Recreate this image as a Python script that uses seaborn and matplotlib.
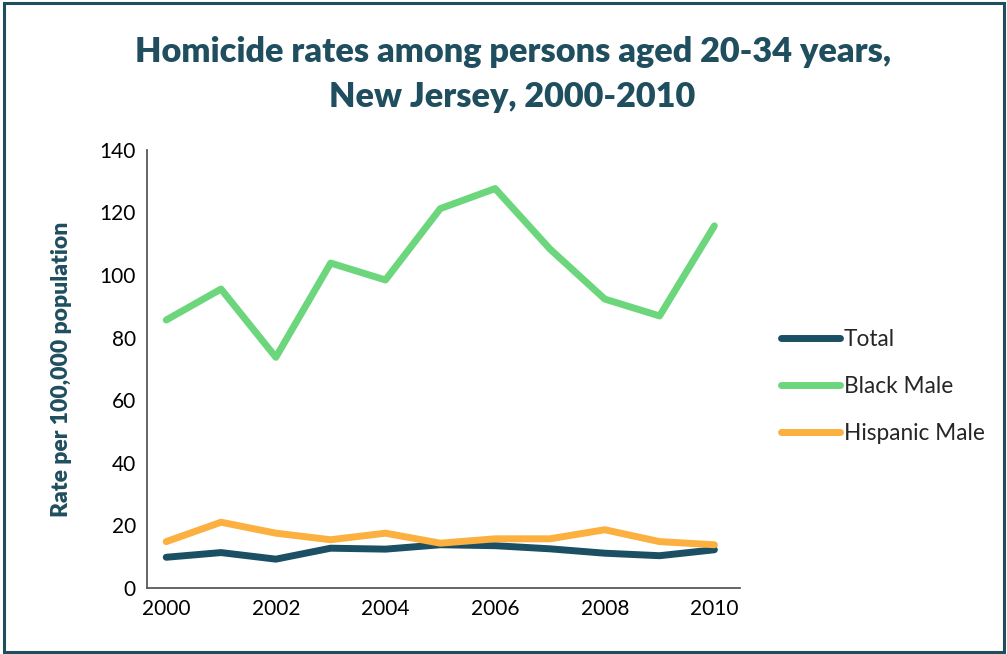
import pandas as pd
import matplotlib.pyplot as plt
import seaborn as sns
from matplotlib.patches import Rectangle

# data
years = [2000, 2001, 2002, 2003, 2004, 2005, 2006, 2007, 2008, 2009, 2010]
total = [9.8, 11.3, 9.2, 12.7, 12.4, 13.8, 13.5, 12.5, 11.1, 10.3, 12.2]
black_male = [85.6, 95.5, 73.7, 103.8, 98.4, 121.2, 127.6, 108.3, 92.3, 86.9, 115.7]
hispanic_male = [14.8, 21.0, 17.5, 15.4, 17.5, 14.3, 15.7, 15.7, 18.6, 14.8, 13.8]
series = ['Total', 'Black Male', 'Hispanic Male']
colors = ['#1B4F63', '#6CD67C', '#FBB03F']

df = pd.DataFrame({'Year': years, 'Total': total,
                   'Black Male': black_male, 'Hispanic Male': hispanic_male})
long = df.melt(id_vars='Year', var_name='Group', value_name='Rate')

sns.set_style('white')
plt.rcParams['font.family'] = ['Lato', 'DejaVu Sans']

fig = plt.figure(figsize=(10.07, 6.54), dpi=100)
ax = fig.add_axes([0.146, 0.101, 0.589, 0.670])

sns.lineplot(data=long, x='Year', y='Rate', hue='Group', hue_order=series,
             palette=colors, linewidth=5, ax=ax, legend=True,
             solid_capstyle='round')

ax.set_xlim(1999.65, 2010.47)
ax.set_ylim(0, 140)
ax.set_xticks(range(2000, 2011, 2))
ax.set_yticks(range(0, 141, 20))
ax.tick_params(axis='both', labelsize=15, length=0, pad=8, colors='black')
ax.set_xlabel('')
ax.set_ylabel('Rate per 100,000 population', fontsize=16.5, fontweight='heavy',
              color='#1F4E5F', labelpad=20)
for s in ['top', 'right']:
    ax.spines[s].set_visible(False)
for s in ['left', 'bottom']:
    ax.spines[s].set_color('#595959')
    ax.spines[s].set_linewidth(1.3)

leg = ax.legend(loc='center left', bbox_to_anchor=(1.035, 0.46), frameon=False,
                fontsize=16.3, handlelength=2.6, handletextpad=0.15,
                labelspacing=1.15, title=None)
for line in leg.get_lines():
    line.set_linewidth(5)
    line.set_solid_capstyle('round')

fig.text(0.509, 0.921, 'Homicide rates among persons aged 20-34 years,',
         ha='center', va='center', fontsize=24.7, fontweight='heavy', color='#1F4E5F')
fig.text(0.509, 0.851, 'New Jersey, 2000-2010',
         ha='center', va='center', fontsize=24.7, fontweight='heavy', color='#1F4E5F')

fig.patches.append(Rectangle((0.004, 0.003), 0.993, 0.993, transform=fig.transFigure,
                             fill=False, edgecolor='#1F4E5F', linewidth=2.2))

plt.savefig('out.png', dpi=100)
plt.close()
